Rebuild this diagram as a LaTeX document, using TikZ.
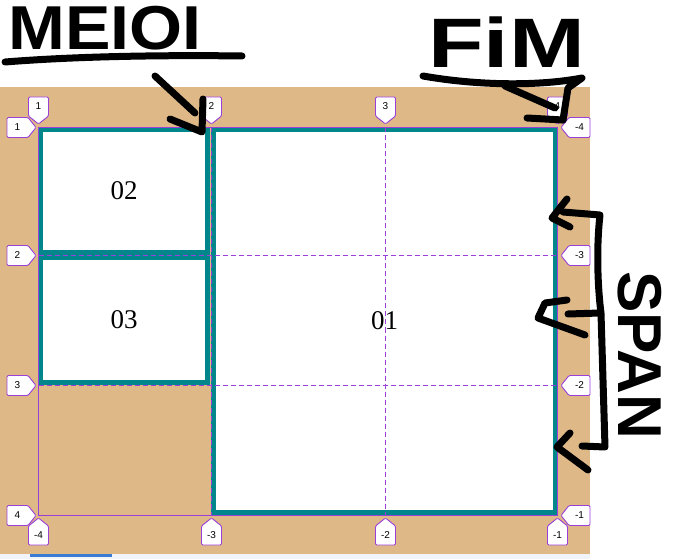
\documentclass[tikz,border=0pt]{standalone}
\usepackage{fontspec}
\setmainfont{Liberation Serif}
\newfontfamily\badgefont{Liberation Sans}
\newfontfamily\handfont{Liberation Sans}
\definecolor{tanbg}{HTML}{DEB887}
\definecolor{tealb}{HTML}{00868B}
\definecolor{gridpurple}{HTML}{9A3FD8}
\definecolor{stripgray}{HTML}{F1F4F8}
\definecolor{barblue}{HTML}{3A7BD5}
\tikzset{
  badgeline/.style={draw=gridpurple, fill=white, line width=0.9pt, rounded corners=1.2pt},
  badgetext/.style={font=\badgefont\fontsize{10}{11}\selectfont, inner sep=0pt},
  item/.style={draw=tealb, fill=white, line width=5pt,
    font=\fontsize{27}{30}\selectfont, inner sep=0pt},
  gridline/.style={draw=gridpurple, line width=1pt},
  griddash/.style={draw=gridpurple, line width=1pt, dash pattern=on 5pt off 3pt},
  hand/.style={draw=black, line width=7pt, line cap=round, line join=round},
  handtext/.style={font=\handfont\bfseries\fontsize{62}{62}\selectfont, inner sep=0pt}
}
% badges: #1 name, #2 x, #3 y of tip, #4 text
\newcommand{\bdgdown}[4]{%
  \draw[badgeline] (#2,#3) -- ++(10,-8) -- ++(0,-19) -- ++(-20,0) -- ++(0,19) -- cycle;
  \node[badgetext] (#1) at (#2,#3-17.5) {#4};}
\newcommand{\bdgup}[4]{%
  \draw[badgeline] (#2,#3) -- ++(10,8) -- ++(0,19) -- ++(-20,0) -- ++(0,-19) -- cycle;
  \node[badgetext] (#1) at (#2,#3+17.5) {#4};}
\newcommand{\bdgright}[4]{%
  \draw[badgeline] (#2,#3) -- ++(-8,-10) -- ++(-21,0) -- ++(0,20) -- ++(21,0) -- cycle;
  \node[badgetext] (#1) at (#2-18.5,#3) {#4};}
\newcommand{\bdgleft}[4]{%
  \draw[badgeline] (#2,#3) -- ++(8,-10) -- ++(21,0) -- ++(0,20) -- ++(-21,0) -- cycle;
  \node[badgetext] (#1) at (#2+18.5,#3) {#4};}
\begin{document}
\begin{tikzpicture}[x=1pt,y=-1pt]
\useasboundingbox (0,0) rectangle (673,559);
\fill[white] (0,0) rectangle (673,559);
% background
\fill[tanbg] (0,87) rectangle (590,554);
\fill[stripgray] (0,554) rectangle (590,559);
\fill[barblue] (30,554) rectangle (112,557);
% items
\node[item, minimum width=167pt, minimum height=123pt] (i02) at (124,191) {02};
\node[item, minimum width=167pt, minimum height=125pt] (i03) at (124,320) {03};
\node[item, minimum width=342pt, minimum height=383pt] (i01) at (384.5,321) {01};
% grid lines
\draw[gridline] (38.5,127.5) rectangle (557.5,515.5);
\draw[griddash] (211.5,127.5) -- (211.5,515.5);
\draw[griddash] (385.5,127.5) -- (385.5,515.5);
\draw[griddash] (38.5,255.5) -- (557.5,255.5);
\draw[griddash] (38.5,385.5) -- (557.5,385.5);
% top badges
\bdgdown{t1}{38.5}{124}{1}
\bdgdown{t2}{211.5}{124}{2}
\bdgdown{t3}{385.5}{124}{3}
\bdgdown{t4}{557.5}{124}{4}
% left badges
\bdgright{l1}{36}{127.5}{1}
\bdgright{l2}{36}{255.5}{2}
\bdgright{l3}{36}{385.5}{3}
\bdgright{l4}{36}{515.5}{4}
% right badges
\bdgleft{r1}{561}{127.5}{-4}
\bdgleft{r2}{561}{255.5}{-3}
\bdgleft{r3}{561}{385.5}{-2}
\bdgleft{r4}{561}{515.5}{-1}
% bottom badges
\bdgup{bb1}{38.5}{518}{-4}
\bdgup{bb2}{211.5}{518}{-3}
\bdgup{bb3}{385.5}{518}{-2}
\bdgup{bb4}{557.5}{518}{-1}
% handwriting
\node[handtext, anchor=base west, xscale=1.1] (meio) at (8,50) {MEIOI};
\draw[hand] (5,62) .. controls (80,56) and (170,55) .. (242,56);
\draw[hand] (155,76) -- (195,113);
\draw[hand] (170,119) -- (202,132) -- (203,99);
\node[handtext, font=\handfont\bfseries\fontsize{70}{70}\selectfont, anchor=base west, xscale=1.3] (fim) at (428,68) {FiM};
\draw[hand] (423,76) .. controls (480,86) and (540,86) .. (582,78) -- (568,88) -- (563,120);
\draw[hand] (505,86) -- (555,108);
\draw[hand] (527,118) -- (563,120);
% brace
\draw[hand] (567,199) -- (552,218) -- (570,227);
\draw[hand] (563,212) -- (600,215) .. controls (596,250) and (598,290) .. (601,313) -- (605,447) -- (582,446);
\draw[hand] (600,313) -- (568,314);
\draw[hand] (567,300) -- (545,303) -- (538,318) -- (585,335);
\draw[hand] (570,433) -- (557,447) -- (588,470);
\node[handtext, rotate=-90, anchor=center] (span) at (640,355) {SPAN};
\end{tikzpicture}
\end{document}
